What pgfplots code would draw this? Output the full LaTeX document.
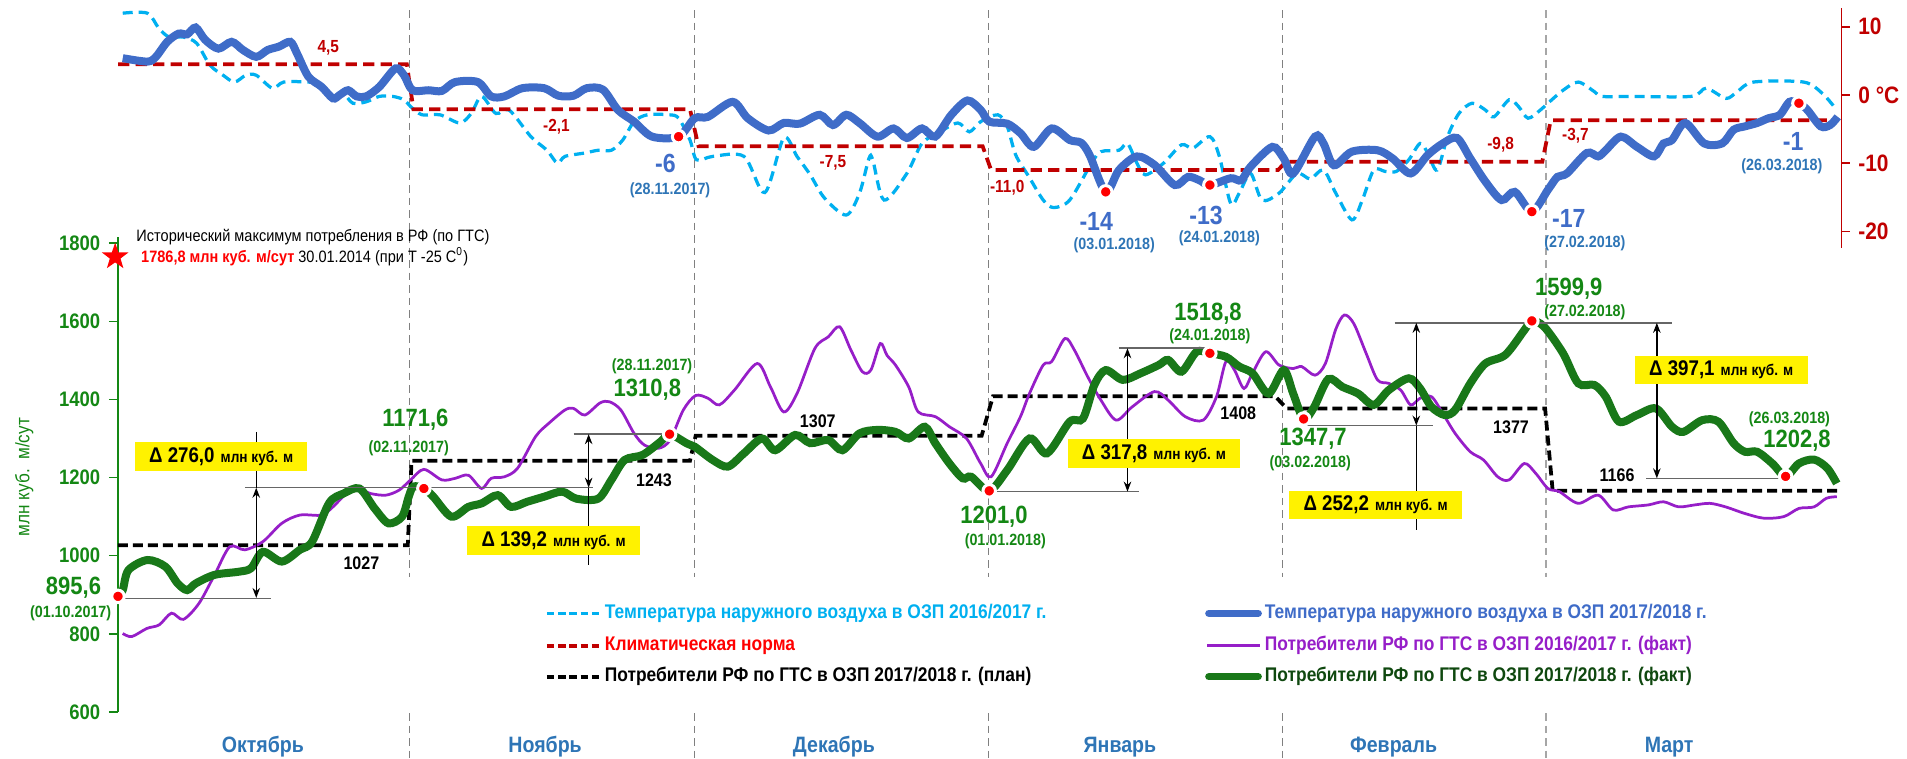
\documentclass[border=0pt]{standalone}
\usepackage{fontspec}
\setmainfont{Liberation Sans}[FakeStretch=0.88]
\usepackage{pgfplots}
\pgfplotsset{compat=1.18}
\usetikzlibrary{arrows.meta}
\definecolor{tblue}{RGB}{63,108,200}
\definecolor{tcyan}{RGB}{0,176,240}
\definecolor{tnorm}{RGB}{192,0,0}
\definecolor{cpurple}{RGB}{150,30,200}
\definecolor{cgreen}{RGB}{25,120,25}
\definecolor{lgreen}{RGB}{20,135,20}
\definecolor{mblue}{RGB}{46,117,182}
\newcommand\fs[1]{\fontsize{#1}{#1}\selectfont}
\pgfdeclareplotmark{fstar}{%
  \pgfpathmoveto{\pgfpointpolar{90}{\pgfplotmarksize}}%
  \pgfpathlineto{\pgfpointpolar{126}{0.4\pgfplotmarksize}}%
  \pgfpathlineto{\pgfpointpolar{162}{\pgfplotmarksize}}%
  \pgfpathlineto{\pgfpointpolar{198}{0.4\pgfplotmarksize}}%
  \pgfpathlineto{\pgfpointpolar{234}{\pgfplotmarksize}}%
  \pgfpathlineto{\pgfpointpolar{270}{0.4\pgfplotmarksize}}%
  \pgfpathlineto{\pgfpointpolar{306}{\pgfplotmarksize}}%
  \pgfpathlineto{\pgfpointpolar{342}{0.4\pgfplotmarksize}}%
  \pgfpathlineto{\pgfpointpolar{18}{\pgfplotmarksize}}%
  \pgfpathlineto{\pgfpointpolar{54}{0.4\pgfplotmarksize}}%
  \pgfpathclose\pgfusepath{fill}}
\tikzset{
  mline/.style={gray, line width=0.45pt, dash pattern=on 3pt off 2pt},
  hline/.style={black!60, line width=0.6pt},
  vline/.style={black, line width=0.6pt},
  varr/.style={black, line width=0.6pt, {Stealth[length=4pt,width=3pt]}-{Stealth[length=4pt,width=3pt]}},
  ybox/.style={fill=yellow, inner xsep=2pt, inner ysep=1pt, minimum width=69pt, minimum height=11.5pt},
  gval/.style={font=\fs{10}\bfseries, text=lgreen},
  gdate/.style={font=\fs{6.5}\bfseries, text=lgreen},
  plab/.style={font=\fs{7.3}\bfseries, text=black},
  tval/.style={font=\fs{10.5}\bfseries, text=tblue},
  tdate/.style={font=\fs{6.5}\bfseries, text=mblue},
  nlab/.style={font=\fs{7}\bfseries, text=tnorm},
  leg/.style={anchor=west, font=\fs{7.9}\bfseries, inner sep=1pt},
}
\newcommand\dbox[1]{{\fs{8.5}\bfseries Δ #1} {\fs{6.2}\bfseries млн куб. м}}
\begin{document}
\begin{tikzpicture}
% ===================== consumption axis =====================
\begin{axis}[
  at={(47.2pt,18.4pt)}, anchor=south west, scale only axis,
  width=689.4pt, height=189.9pt,
  xmin=0, xmax=182, ymin=600, ymax=1815,
  axis x line=none, axis y line*=left,
  y axis line style={-, draw=lgreen, line width=0.6pt},
  ytick={600,800,1000,1200,1400,1600,1800},
  yticklabels={600,800,1000,1200,1400,1600,1800},
  ytick style={draw=lgreen, line width=0.6pt},
  tick align=outside, major tick length=3.6pt,
  yticklabel style={font=\fs{8.4}\bfseries, text=lgreen},
  xtick=\empty, clip=false,
  /pgf/number format/assume math mode=true,
]
% month separators
\draw[mline] (axis cs:30.8,2396) -- (axis cs:30.8,946);
\draw[mline] (axis cs:30.8,597) -- (axis cs:30.8,482);
\draw[mline] (axis cs:60.9,2396) -- (axis cs:60.9,946);
\draw[mline] (axis cs:60.9,597) -- (axis cs:60.9,482);
\draw[mline] (axis cs:91.9,2396) -- (axis cs:91.9,946);
\draw[mline] (axis cs:91.9,597) -- (axis cs:91.9,482);
\draw[mline] (axis cs:123.0,2396) -- (axis cs:123.0,946);
\draw[mline] (axis cs:123.0,597) -- (axis cs:123.0,482);
\draw[mline,black!35] (axis cs:150.8,2396) -- (axis cs:150.8,946);
\draw[mline,black!35] (axis cs:150.8,597) -- (axis cs:150.8,482);
% plan
\addplot[black, line width=1.5pt, dash pattern=on 4pt off 2pt] coordinates {
(0,1027)(30.6,1027)(31.0,1243)(60.4,1243)(61.0,1307)(91.2,1307)(92.4,1408)(122.2,1408)(123.4,1377)(150.7,1377)(151.5,1166)(181.6,1166)};
% purple 2016/17
\addplot[cpurple, line width=1.1pt, smooth, tension=0.5] coordinates {
(0.5,801)(1.45,793)(3.06,814)(4.35,823)(5.65,853)(6.9,837)(8.55,878)(10.2,951)(11.8,1023)(13.4,1015)(15.3,1036)(17.3,1083)(19.2,1104)(21.5,1104)(22.7,1125)(24.1,1159)(25.2,1172)(26.7,1159)(28.3,1155)(29.7,1168)(30.9,1194)(32.3,1221)(34.2,1194)(35.6,1198)(37.0,1206)(38.4,1172)(39.4,1198)(40.8,1202)(42.2,1224)(44.1,1305)(45.5,1339)(47.2,1373)(48.1,1377)(49.3,1360)(50.9,1391)(51.9,1394)(53.1,1373)(54.5,1313)(55.6,1283)(57.1,1275)(58.3,1296)(59.7,1373)(61.0,1410)(62.3,1403)(63.5,1386)(65.1,1424)(67.5,1492)(68.9,1432)(70.3,1368)(71.7,1415)(73.6,1531)(75.0,1560)(76.2,1586)(77.4,1526)(78.6,1471)(79.5,1475)(80.5,1543)(81.2,1513)(82.1,1488)(83.5,1432)(84.5,1368)(86.3,1356)(87.8,1330)(89.6,1300)(91.1,1236)(92.2,1202)(93.9,1288)(95.3,1356)(96.25,1415)(97.7,1488)(98.6,1497)(100.0,1556)(101.0,1526)(102.4,1458)(103.8,1398)(105.4,1347)(107.1,1381)(109.45,1420)(110.9,1398)(112.7,1356)(114.6,1347)(116.0,1407)(117.0,1497)(117.9,1475)(118.9,1428)(119.8,1467)(121.2,1522)(122.6,1488)(124.1,1479)(125.0,1484)(126.4,1462)(127.5,1492)(128.6,1580)(129.5,1616)(130.5,1594)(131.8,1518)(133.0,1450)(134.2,1441)(135.45,1424)(136.5,1386)(137.5,1403)(138.7,1407)(139.9,1364)(141.2,1313)(142.8,1266)(144.2,1245)(145.7,1202)(146.9,1194)(148.5,1236)(149.7,1211)(151.0,1172)(152.2,1164)(154.2,1134)(156.3,1155)(157.9,1117)(159.5,1125)(161.6,1130)(163.2,1138)(164.8,1125)(166.5,1130)(168.1,1134)(169.75,1125)(171.8,1108)(173.8,1096)(175.9,1100)(177.5,1121)(179.1,1125)(180.4,1147)(181.5,1151)};
% green 2017/18
\addplot[cgreen, line width=3.2pt, smooth, tension=0.5] coordinates {
(0,896)(0.5,912)(1.1,963)(3.1,989)(5.0,972)(6.3,929)(7.3,912)(8.2,929)(10.2,951)(12.75,959)(14.05,968)(15.3,1010)(17.3,985)(19.2,1015)(20.5,1036)(22.3,1135)(23.8,1159)(25.5,1172)(27.1,1121)(28.55,1083)(30.0,1100)(30.7,1151)(31.2,1177)(32.3,1172)(33.3,1151)(35.2,1100)(37.0,1125)(38.4,1134)(40.1,1155)(41.5,1125)(43.2,1138)(45.0,1151)(46.9,1164)(48.4,1146)(50.7,1146)(52.1,1194)(53.5,1245)(55.4,1258)(57.3,1292)(58.25,1311)(60.1,1287)(60.9,1279)(62.8,1245)(64.4,1228)(66.1,1262)(68.0,1300)(69.4,1270)(71.5,1309)(73.1,1288)(75.0,1296)(76.5,1270)(78.3,1313)(80.2,1322)(82.1,1317)(83.5,1300)(85.2,1330)(86.3,1288)(87.8,1236)(89.2,1198)(90.1,1202)(92.0,1166)(93.9,1219)(96.25,1300)(98.1,1262)(100.5,1343)(101.9,1351)(103.1,1437)(104.3,1475)(106.1,1450)(108.0,1467)(109.9,1488)(110.9,1501)(112.3,1471)(113.9,1522)(115.3,1518)(117.0,1509)(118.4,1484)(119.8,1467)(121.5,1415)(123.1,1475)(124.1,1415)(125.2,1350)(126.3,1380)(127.8,1452)(129.3,1432)(130.95,1415)(132.6,1386)(134.2,1424)(136.3,1454)(137.5,1428)(138.7,1381)(140.1,1360)(141.2,1373)(142.8,1441)(144.4,1492)(146.5,1514)(148.5,1577)(149.3,1601)(150.6,1586)(152.6,1518)(154.2,1441)(155.9,1437)(157.1,1407)(158.5,1343)(160.4,1360)(162.4,1377)(164.1,1330)(165.3,1317)(167.3,1347)(169.0,1343)(170.6,1288)(171.8,1266)(173.1,1266)(174.7,1236)(176.1,1203)(177.5,1236)(179.1,1246)(180.5,1224)(181.5,1185)};
% dimension lines
\draw[hline] (axis cs:0,890) -- (axis cs:16.2,890);
\draw[hline] (axis cs:13.4,1174) -- (axis cs:50.2,1174);
\draw[vline] (axis cs:14.6,1317) -- (axis cs:14.6,1174);
\draw[varr] (axis cs:14.6,1174) -- (axis cs:14.6,892);
\draw[hline] (axis cs:48.1,1311) -- (axis cs:58.2,1311);
\draw[varr] (axis cs:49.7,1311) -- (axis cs:49.7,1174);
\draw[vline] (axis cs:49.7,1174) -- (axis cs:49.7,976);
\draw[hline] (axis cs:92,1164) -- (axis cs:107.8,1164);
\draw[hline] (axis cs:105.7,1531) -- (axis cs:115.3,1531);
\draw[varr] (axis cs:106.6,1531) -- (axis cs:106.6,1164);
\draw[hline] (axis cs:125.2,1333) -- (axis cs:138.9,1333);
\draw[hline] (axis cs:134.8,1596) -- (axis cs:164.1,1596);
\draw[varr] (axis cs:137.1,1596) -- (axis cs:137.1,1333);
\draw[vline] (axis cs:137.1,1333) -- (axis cs:137.1,1066);
\draw[varr] (axis cs:162.5,1596) -- (axis cs:162.5,1198);
\draw[hline] (axis cs:161.4,1198) -- (axis cs:176,1198);
% dots
\addplot[only marks, mark=*, mark size=2.5pt, mark options={fill=red, draw=white, line width=1.2pt}] coordinates {
(0,896)(32.3,1172)(58.25,1311)(92.0,1166)(115.3,1518)(125.2,1350)(149.3,1601)(176.1,1203)};
\addplot[only marks, mark=fstar, mark size=5.6pt, mark options={fill=red}] coordinates {(-0.3,1765)};
% boxes
\node[ybox] at (axis cs:10.9,1253) {\dbox{276,0}};
\node[ybox] at (axis cs:46.0,1038) {\dbox{139,2}};
\node[ybox] at (axis cs:109.4,1261) {\dbox{317,8}};
\node[ybox] at (axis cs:132.8,1130) {\dbox{252,2}};
\node[ybox] at (axis cs:169.3,1475) {\dbox{397,1}};
% green labels
\node[gval] at (axis cs:-4.7,917) {895,6};
\node[gdate] at (axis cs:-5.0,853) {(01.10.2017)};
\node[gval] at (axis cs:31.4,1347) {1171,6};
\node[gdate] at (axis cs:30.7,1275) {(02.11.2017)};
\node[gdate] at (axis cs:56.4,1484) {(28.11.2017)};
\node[gval] at (axis cs:55.9,1424) {1310,8};
\node[gval] at (axis cs:92.5,1100) {1201,0};
\node[gdate] at (axis cs:93.7,1036) {(01.01.2018)};
\node[gval] at (axis cs:115.1,1620) {1518,8};
\node[gdate] at (axis cs:115.3,1562) {(24.01.2018)};
\node[gval] at (axis cs:126.2,1300) {1347,7};
\node[gdate] at (axis cs:125.9,1236) {(03.02.2018)};
\node[gval] at (axis cs:153.2,1684) {1599,9};
\node[gdate] at (axis cs:154.9,1624) {(27.02.2018)};
\node[gdate] at (axis cs:176.5,1349) {(26.03.2018)};
\node[gval] at (axis cs:177.3,1294) {1202,8};
% plan labels
\node[plab] at (axis cs:25.7,980) {1027};
\node[plab] at (axis cs:56.6,1192) {1243};
\node[plab] at (axis cs:73.9,1345) {1307};
\node[plab] at (axis cs:118.3,1364) {1408};
\node[plab] at (axis cs:147.1,1329) {1377};
\node[plab] at (axis cs:158.3,1206) {1166};
% historic maximum
\node[anchor=west, font=\fs{6.6}, inner sep=0pt] at (axis cs:1.9,1816) {Исторический максимум потребления в РФ (по ГТС)};
\node[anchor=west, font=\fs{6.6}, inner sep=0pt] at (axis cs:2.4,1765) {\textcolor{red}{\bfseries 1786,8 млн куб. м/сут} 30.01.2014 (при Т -25 С\textsuperscript{0})};
% y label
\node[rotate=90, font=\fs{7.8}, text=lgreen] at (axis cs:-9.9,1201) {млн куб.~~м/сут};
% months
\node[font=\fs{8.9}\bfseries, text=mblue] at (axis cs:15.3,511) {Октябрь};
\node[font=\fs{8.9}\bfseries, text=mblue] at (axis cs:45.1,511) {Ноябрь};
\node[font=\fs{8.9}\bfseries, text=mblue] at (axis cs:75.6,511) {Декабрь};
\node[font=\fs{8.9}\bfseries, text=mblue] at (axis cs:105.8,511) {Январь};
\node[font=\fs{8.9}\bfseries, text=mblue] at (axis cs:134.7,511) {Февраль};
\node[font=\fs{8.9}\bfseries, text=mblue] at (axis cs:163.8,511) {Март};
% legend
\draw[tcyan, line width=1.3pt, dash pattern=on 3pt off 1.5pt] (axis cs:45.3,852.6) -- (axis cs:50.9,852.6);
\node[leg, text=tcyan] at (axis cs:51.1,852.6) {Температура наружного воздуха в ОЗП 2016/2017 г.};
\draw[tnorm, line width=1.5pt, dash pattern=on 3pt off 1.5pt] (axis cs:45.3,769.7) -- (axis cs:50.9,769.7);
\node[leg, text=red] at (axis cs:51.1,769.7) {Климатическая норма};
\draw[black, line width=1.5pt, dash pattern=on 3pt off 1.5pt] (axis cs:45.3,690.4) -- (axis cs:50.9,690.4);
\node[leg, text=black] at (axis cs:51.1,690.4) {Потребители РФ по ГТС в ОЗП 2017/2018 г. (план)};
\draw[tblue, line width=3pt, line cap=round] (axis cs:115.2,852.6) -- (axis cs:120.4,852.6);
\node[leg, text=tblue] at (axis cs:120.8,852.6) {Температура наружного воздуха в ОЗП 2017/2018 г.};
\draw[cpurple, line width=1.2pt] (axis cs:115.0,769.7) -- (axis cs:120.6,769.7);
\node[leg, text=cpurple] at (axis cs:120.8,769.7) {Потребители РФ по ГТС в ОЗП 2016/2017 г. (факт)};
\draw[cgreen, line width=3pt, line cap=round] (axis cs:115.2,690.4) -- (axis cs:120.4,690.4);
\node[leg, text=black!40!cgreen] at (axis cs:120.8,690.4) {Потребители РФ по ГТС в ОЗП 2017/2018 г. (факт)};
\end{axis}
% ===================== temperature axis =====================
\begin{axis}[
  at={(47.2pt,204pt)}, anchor=south west, scale only axis,
  width=689.4pt, height=96pt,
  xmin=0, xmax=182, ymin=-22.43, ymax=12.76,
  axis x line=none, axis y line*=right,
  y axis line style={-, draw=tnorm, line width=0.6pt},
  ytick={-20,-10,0,10}, yticklabels={-20,-10,0 °C,10},
  ytick style={draw=tnorm, line width=0.6pt},
  tick align=outside, major tick length=3.2pt,
  yticklabel style={font=\fs{9.5}\bfseries, text=tnorm},
  xtick=\empty, clip=false,
  /pgf/number format/assume math mode=true,
]
\addplot[tcyan, line width=1.3pt, dash pattern=on 4pt off 2.4pt, smooth, tension=0.5] coordinates {
(0.5,12.0)(3.1,12.0)(4.3,9.8)(5.4,8.5)(6.9,8.5)(8.3,7.6)(9.7,4.4)(11.1,2.9)(12.3,1.9)(13.5,2.9)(14.6,2.9)(16.3,1.0)(17.5,1.9)(20.1,1.9)(21.5,1.5)(22.7,-0.2)(23.8,0.2)(24.8,-1.2)(26.2,-1.0)(27.6,-0.2)(29.0,-0.2)(30.2,-0.7)(30.9,-1.7)(32.1,-2.9)(34.0,-2.9)(36.1,-4.1)(37.3,-2.7)(38.4,-0.2)(39.9,-2.7)(41.3,-2.2)(43.6,-6.1)(45.3,-8.1)(46.4,-10.0)(47.2,-9.0)(49.3,-8.5)(50.7,-8.1)(52.1,-8.1)(53.3,-6.6)(54.5,-3.9)(55.9,-2.9)(58.2,-2.9)(59.2,-3.4)(60.4,-6.6)(61.1,-9.5)(62.8,-9.0)(66.1,-9.0)(68.3,-14.3)(70.3,-6.3)(71.7,-9.0)(73.1,-11.7)(74.6,-15.1)(76.9,-17.6)(78.3,-14.4)(79.3,-9.3)(79.7,-9.5)(80.9,-15.4)(83.3,-11.5)(84.9,-7.1)(86.8,-5.4)(88.7,-4.1)(89.9,-5.4)(91.1,-3.9)(92.9,-2.9)(93.9,-4.6)(94.8,-8.8)(96.2,-12.0)(97.7,-15.4)(98.8,-16.5)(100.5,-15.4)(102.8,-10.0)(103.8,-8.3)(105.7,-8.1)(106.6,-7.1)(107.6,-10.0)(108.5,-11.7)(110.4,-10.0)(112.3,-7.3)(113.5,-7.8)(115.3,-6.1)(116.3,-9.0)(117.5,-15.9)(118.4,-14.4)(119.6,-11.5)(120.8,-15.4)(122.6,-14.4)(124.5,-11.5)(125.9,-12.3)(127.3,-11.0)(128.6,-14.4)(130.3,-18.3)(131.4,-15.4)(132.6,-11.0)(133.8,-11.2)(135.0,-11.2)(136.3,-9.5)(137.5,-7.1)(138.3,-8.5)(139.3,-11.0)(140.4,-6.1)(141.6,-2.7)(143.0,-1.2)(144.4,-2.2)(145.3,-3.2)(146.9,-0.7)(147.9,-1.7)(148.9,-3.4)(150.2,-2.2)(151.0,-1.2)(152.6,0.7)(154.2,1.9)(155.9,0.5)(156.7,-0.2)(159.5,-0.2)(166.1,-0.2)(167.7,1.0)(169.8,-0.5)(171.0,0.5)(172.7,1.9)(178.0,1.9)(180.0,0.2)(181.5,-2.2)};
\addplot[tnorm, line width=1.5pt, dash pattern=on 4.5pt off 2.5pt] coordinates {
(0,4.5)(30.5,4.5)(31.2,-2.1)(60.4,-2.1)(61.3,-7.5)(91.3,-7.5)(92.2,-11.0)(122.5,-11.0)(123.3,-9.8)(150.4,-9.8)(151.3,-3.7)(181.6,-3.7)};
\addplot[tblue, line width=3.2pt, smooth, tension=0.5] coordinates {
(0.5,5.4)(3.1,4.9)(4.0,5.6)(5.2,7.8)(6.4,9.0)(7.3,8.9)(8.2,9.9)(9.2,8.1)(10.6,6.8)(12.0,7.8)(13.2,6.6)(14.6,5.6)(15.8,6.6)(17.0,7.1)(18.2,7.8)(18.9,6.1)(20.1,2.7)(21.5,1.2)(22.7,-0.5)(23.4,0.0)(24.3,0.7)(25.2,-0.2)(26.2,-0.2)(27.6,1.2)(29.3,3.9)(30.2,2.9)(31.1,0.7)(32.8,0.7)(34.2,0.6)(35.6,1.9)(38.0,1.9)(39.4,-0.2)(40.8,-0.2)(42.7,1.0)(45.0,1.0)(46.5,-0.1)(48.1,-0.1)(49.5,1.0)(51.2,0.8)(52.8,-2.2)(54.5,-3.9)(56.4,-6.1)(59.2,-6.1)(60.9,-3.4)(62.3,-3.2)(64.9,-1.0)(66.5,-3.4)(68.7,-5.2)(70.3,-4.1)(72.0,-4.2)(74.1,-2.9)(75.5,-4.4)(76.9,-2.9)(78.3,-4.1)(80.2,-6.1)(81.9,-4.9)(83.3,-6.3)(84.9,-4.9)(86.3,-6.1)(88.0,-2.9)(89.7,-0.8)(91.1,-2.2)(92.0,-3.9)(93.9,-4.2)(95.3,-5.6)(96.7,-7.6)(98.6,-4.9)(100.5,-6.6)(101.7,-7.0)(102.6,-8.8)(104.3,-14.2)(105.7,-11.0)(107.6,-9.0)(109.5,-10.3)(111.6,-13.2)(113.0,-12.0)(114.2,-12.5)(115.3,-13.2)(117.5,-12.2)(118.6,-12.5)(119.6,-10.5)(121.9,-7.6)(123.1,-9.3)(124.1,-11.5)(126.4,-6.1)(127.3,-7.1)(128.4,-10.3)(130.3,-8.3)(133.0,-8.1)(134.6,-9.3)(136.5,-11.5)(138.3,-8.8)(139.9,-7.1)(141.4,-6.3)(142.8,-9.3)(144.4,-12.7)(146.1,-15.4)(147.5,-14.2)(149.3,-17.1)(151.0,-13.9)(152.0,-12.0)(153.0,-11.5)(155.1,-8.5)(156.3,-9.0)(157.1,-8.1)(158.7,-6.1)(160.4,-7.6)(162.2,-9.0)(163.2,-7.1)(164.1,-6.6)(165.5,-4.1)(167.5,-7.1)(169.4,-7.1)(170.6,-5.1)(171.8,-4.6)(173.1,-4.1)(174.3,-3.4)(175.5,-2.9)(176.5,-1.0)(177.5,-1.2)(178.4,-2.2)(179.8,-4.6)(180.8,-4.4)(181.6,-3.2)};
\addplot[only marks, mark=*, mark size=2.5pt, mark options={fill=red, draw=white, line width=1.2pt}] coordinates {
(59.2,-6.1)(104.3,-14.2)(115.3,-13.2)(149.3,-17.1)(177.5,-1.2)};
% norm labels
\node[nlab] at (axis cs:22.2,6.9) {4,5};
\node[nlab] at (axis cs:46.3,-4.7) {-2,1};
\node[nlab] at (axis cs:75.5,-10.0) {-7,5};
\node[nlab] at (axis cs:93.9,-13.6) {-11,0};
\node[nlab] at (axis cs:146.0,-7.3) {-9,8};
\node[nlab] at (axis cs:153.9,-5.9) {-3,7};
% extremes
\node[tval] at (axis cs:57.8,-10.0) {-6};
\node[tdate] at (axis cs:58.3,-13.9) {(28.11.2017)};
\node[tval] at (axis cs:103.3,-18.6) {-14};
\node[tdate] at (axis cs:105.2,-22.0) {(03.01.2018)};
\node[tval] at (axis cs:114.9,-17.6) {-13};
\node[tdate] at (axis cs:116.3,-21.0) {(24.01.2018)};
\node[tval] at (axis cs:153.2,-18.1) {-17};
\node[tdate] at (axis cs:154.9,-21.7) {(27.02.2018)};
\node[tval] at (axis cs:176.9,-6.85) {-1};
\node[tdate] at (axis cs:175.7,-10.5) {(26.03.2018)};
\end{axis}
\pgfresetboundingbox
\path[use as bounding box] (0,0) rectangle (762.8pt,303.2pt);
\end{tikzpicture}
\end{document}
